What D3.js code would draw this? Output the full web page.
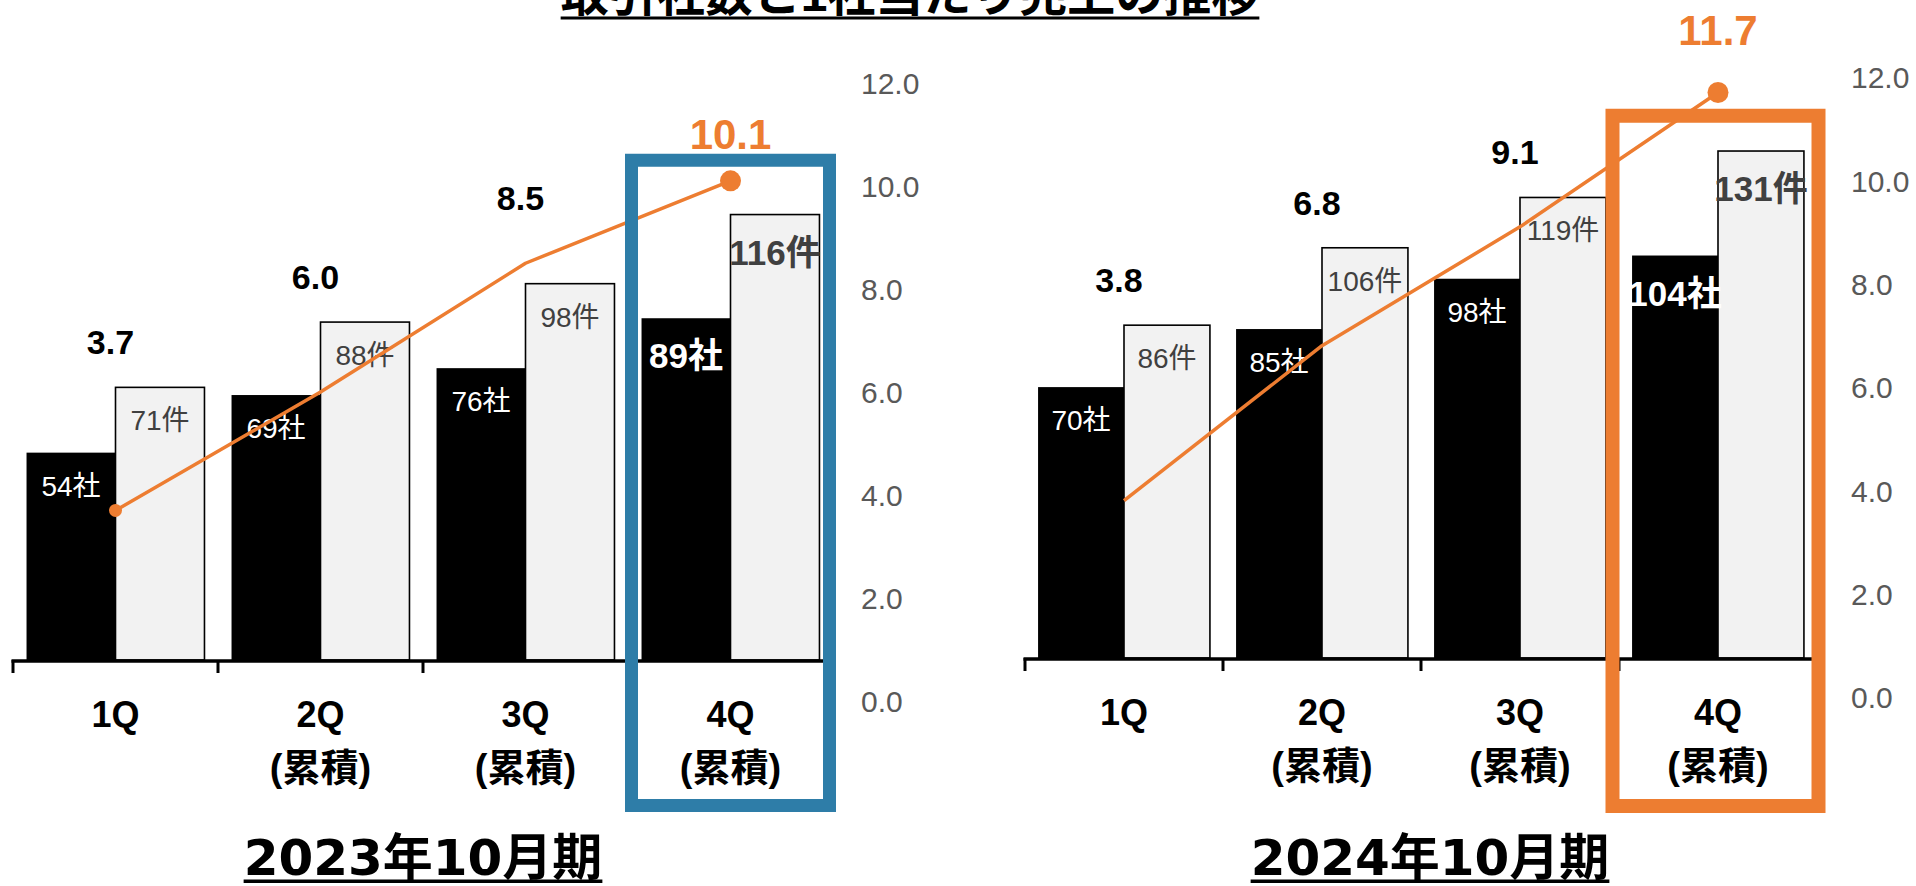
<!DOCTYPE html>
<html><head><meta charset="utf-8">
<script src="https://cdn.jsdelivr.net/npm/d3@7"></script>
<style>
html,body{margin:0;padding:0;background:#fff;overflow:hidden}
svg{display:block}
text{font-family:"Liberation Sans","Noto Sans CJK JP",Arial,sans-serif}
text.period{font-family:"DejaVu Sans","Noto Sans CJK JP",sans-serif}
</style></head><body>
<svg id="chart" width="1916" height="886"></svg>
<script>
// ---------- data ----------
const title = "取引社数と1社当たり売上の推移";
const quarters = ["1Q", "2Q", "3Q", "4Q"];
const quarterNotes = ["", "(累積)", "(累積)", "(累積)"];
const periods = ["2023年10月期", "2024年10月期"];
const companies2023 = [54, 69, 76, 89];
const deals2023 = [71, 88, 98, 116];
const salesPerCompany2023 = [3.7, 6.0, 8.5, 10.1];
const companies2024 = [70, 85, 98, 104];
const deals2024 = [86, 106, 119, 131];
const salesPerCompany2024 = [3.8, 6.8, 9.1, 11.7];
const rightAxisTicks = [0, 2, 4, 6, 8, 10, 12];
const companyUnit = "社", dealUnit = "件";

// ---------- layout ----------
const ORANGE = "#ED7D31";
const panels = [
  { period: periods[0], companies: companies2023, deals: deals2023, sales: salesPerCompany2023,
    x0: 13, x1: 833, base: 660, pxPerUnit: 3.84, lineZero: 701, lineTop: 83, axisX: 861,
    boxColor: "#2E7DA8", boxStroke: 13, boxTopValue: 10.5, boxBottom: 805.5, boxInsetL: 3.5, boxInsetR: 3.5,
    firstMarker: true, lastLabelGap: 47, periodShift: 0 },
  { period: periods[1], companies: companies2024, deals: deals2024, sales: salesPerCompany2024,
    x0: 1025, x1: 1817, base: 658, pxPerUnit: 3.87, lineZero: 697, lineTop: 77, axisX: 1851,
    boxColor: ORANGE, boxStroke: 14, boxTopValue: 11.25, boxBottom: 806, boxInsetL: -6.5, boxInsetR: -1.5,
    firstMarker: false, lastLabelGap: 63, periodShift: 9 }
];

const svg = d3.select("#chart");

// title (cut off at the top edge, as in the source)
const t = svg.append("text").attr("x", 910).attr("y", 11).attr("text-anchor", "middle")
  .attr("font-size", 48).attr("font-weight", "bold").attr("fill", "#000").text(title);
const tl = t.node().getComputedTextLength();
svg.append("rect").attr("x", 910 - tl / 2).attr("y", 16.5).attr("width", tl).attr("height", 3).attr("fill", "#000");

panels.forEach(p => {
  const g = svg.append("g");
  const x = d3.scaleBand().domain(quarters).range([p.x0, p.x1]).paddingInner(0).paddingOuter(0);
  const bw = x.bandwidth();
  const groupW = bw * 0.868;
  const barW = groupW / 2;
  const yBar = d3.scaleLinear().domain([0, 160]).range([p.base, p.base - 160 * p.pxPerUnit]);
  const yLine = d3.scaleLinear().domain([0, 12]).range([p.lineZero, p.lineTop]);
  const cx = q => x(q) + bw / 2;
  const last = quarters.length - 1;

  // bars
  quarters.forEach((q, i) => {
    const left = cx(q) - groupW / 2;
    g.append("rect").attr("x", left).attr("y", yBar(p.companies[i]))
      .attr("width", barW).attr("height", yBar(0) - yBar(p.companies[i])).attr("fill", "#000");
    g.append("rect").attr("x", left + barW).attr("y", yBar(p.deals[i]))
      .attr("width", barW).attr("height", yBar(0) - yBar(p.deals[i]))
      .attr("fill", "#F2F2F2").attr("stroke", "#000").attr("stroke-width", 1.6);
  });

  // x axis line + boundary ticks
  g.append("line").attr("x1", p.x0 - 1.5).attr("x2", p.x1).attr("y1", p.base + 1).attr("y2", p.base + 1)
    .attr("stroke", "#000").attr("stroke-width", 3.5);
  quarters.concat(["end"]).forEach((q, i) => {
    const xx = i < quarters.length ? x(q) : p.x1;
    g.append("line").attr("x1", xx).attr("x2", xx).attr("y1", p.base).attr("y2", p.base + 13)
      .attr("stroke", "#000").attr("stroke-width", 3);
  });

  // bar labels
  quarters.forEach((q, i) => {
    const left = cx(q) - groupW / 2;
    const bold = i === last;
    const fs = bold ? 35 : 28;
    const off = bold ? 50 : 43;
    g.append("text").attr("x", left + barW / 2).attr("y", yBar(p.companies[i]) + off)
      .attr("text-anchor", "middle").attr("font-size", fs).attr("font-weight", bold ? "bold" : "normal")
      .attr("fill", "#fff").text(p.companies[i] + companyUnit);
    g.append("text").attr("x", left + barW * 1.5).attr("y", yBar(p.deals[i]) + off)
      .attr("text-anchor", "middle").attr("font-size", fs).attr("font-weight", bold ? "bold" : "normal")
      .attr("fill", "#404040").text(p.deals[i] + dealUnit);
  });

  // line
  const line = d3.line().x((d, i) => cx(quarters[i])).y(d => yLine(d));
  g.append("path").datum(p.sales).attr("d", line).attr("fill", "none")
    .attr("stroke", ORANGE).attr("stroke-width", 3.5).attr("stroke-linejoin", "round");
  if (p.firstMarker) {
    g.append("circle").attr("cx", cx(quarters[0])).attr("cy", yLine(p.sales[0])).attr("r", 6.5).attr("fill", ORANGE);
  }
  g.append("circle").attr("cx", cx(quarters[last])).attr("cy", yLine(p.sales[last])).attr("r", 10.5).attr("fill", ORANGE);

  // value labels
  quarters.forEach((q, i) => {
    if (i === last) {
      g.append("text").attr("x", cx(q)).attr("y", yLine(p.sales[i]) - p.lastLabelGap + 15)
        .attr("text-anchor", "middle").attr("font-size", 42).attr("font-weight", "bold")
        .attr("fill", ORANGE).text(d3.format(".1f")(p.sales[i]));
    } else {
      const c = Math.min(yBar(p.deals[i]) - 45, yLine(p.sales[i]) - 65);
      g.append("text").attr("x", cx(q) - 5).attr("y", c + 12)
        .attr("text-anchor", "middle").attr("font-size", 34).attr("font-weight", "bold")
        .attr("fill", "#000").text(d3.format(".1f")(p.sales[i]));
    }
  });

  // category labels
  quarters.forEach((q, i) => {
    g.append("text").attr("x", cx(q)).attr("y", p.base + 54 + 13).attr("text-anchor", "middle")
      .attr("font-size", 36).attr("font-weight", "bold").attr("fill", "#000").text(q);
    if (quarterNotes[i]) {
      g.append("text").attr("x", cx(q)).attr("y", p.base + 107 + 14).attr("text-anchor", "middle")
        .attr("font-size", 38).attr("font-weight", "bold").attr("fill", "#000").text(quarterNotes[i]);
    }
  });

  // right axis
  const ax = g.append("g").attr("transform", `translate(${p.axisX},0)`)
    .call(d3.axisRight(yLine).tickValues(rightAxisTicks).tickFormat(d3.format(".1f")).tickSize(0).tickPadding(0));
  ax.select(".domain").remove();
  ax.selectAll("text").attr("font-size", 30).attr("fill", "#595959").attr("dy", "0.36em");

  // highlight box
  const bx0 = x(quarters[last]) + p.boxInsetL;
  const bx1 = x(quarters[last]) + bw - p.boxInsetR;
  const by0 = yLine(p.boxTopValue);
  g.append("rect").attr("x", bx0).attr("y", by0).attr("width", bx1 - bx0).attr("height", p.boxBottom - by0)
    .attr("fill", "none").attr("stroke", p.boxColor).attr("stroke-width", p.boxStroke);

  // period label
  const mid = (p.x0 + p.x1) / 2 + p.periodShift;
  const pt = g.append("text").attr("class", "period").attr("x", mid).attr("y", 875).attr("text-anchor", "middle")
    .attr("font-size", 50).attr("font-weight", "bold").attr("fill", "#000").text(p.period);
  const pl = pt.node().getComputedTextLength();
  g.append("rect").attr("x", mid - pl / 2).attr("y", 879.5).attr("width", pl).attr("height", 3.5).attr("fill", "#000");
});
</script>
</body></html>
